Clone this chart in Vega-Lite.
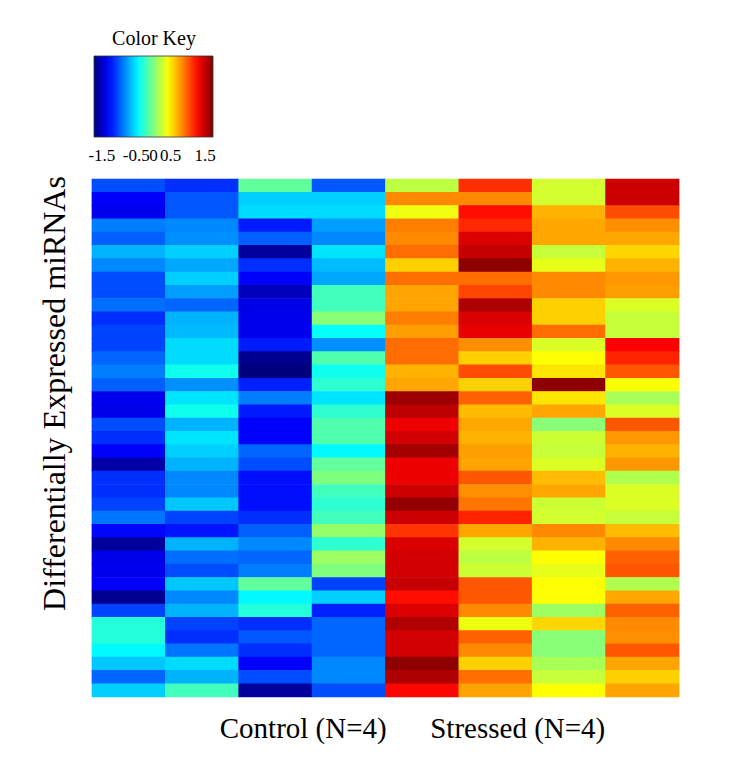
{
  "$schema": "https://vega.github.io/schema/vega-lite/v6.json",
  "width": 587,
  "height": 518,
  "autosize": {"type": "none"},
  "padding": {"left": 92, "top": 179, "right": 53, "bottom": 76},
  "background": "white",
  "config": {"view": {"stroke": null}},
  "data": {"values": [
{"r":1,"s":"C1","v":-1.04},{"r":1,"s":"C2","v":-1.14},{"r":1,"s":"C3","v":-0.10},{"r":1,"s":"C4","v":-1.00},{"r":1,"s":"S1","v":0.21},{"r":1,"s":"S2","v":1.14},{"r":1,"s":"S3","v":0.28},{"r":1,"s":"S4","v":1.47},
{"r":2,"s":"C1","v":-1.31},{"r":2,"s":"C2","v":-1.00},{"r":2,"s":"C3","v":-0.59},{"r":2,"s":"C4","v":-0.59},{"r":2,"s":"S1","v":0.83},{"r":2,"s":"S2","v":0.83},{"r":2,"s":"S3","v":0.28},{"r":2,"s":"S4","v":1.47},
{"r":3,"s":"C1","v":-1.35},{"r":3,"s":"C2","v":-1.00},{"r":3,"s":"C3","v":-0.55},{"r":3,"s":"C4","v":-0.55},{"r":3,"s":"S1","v":0.38},{"r":3,"s":"S2","v":1.25},{"r":3,"s":"S3","v":0.69},{"r":3,"s":"S4","v":1.04},
{"r":4,"s":"C1","v":-0.87},{"r":4,"s":"C2","v":-0.83},{"r":4,"s":"C3","v":-1.21},{"r":4,"s":"C4","v":-0.76},{"r":4,"s":"S1","v":0.87},{"r":4,"s":"S2","v":1.16},{"r":4,"s":"S3","v":0.73},{"r":4,"s":"S4","v":0.81},
{"r":5,"s":"C1","v":-0.97},{"r":5,"s":"C2","v":-0.81},{"r":5,"s":"C3","v":-0.97},{"r":5,"s":"C4","v":-0.83},{"r":5,"s":"S1","v":0.83},{"r":5,"s":"S2","v":1.42},{"r":5,"s":"S3","v":0.73},{"r":5,"s":"S4","v":0.73},
{"r":6,"s":"C1","v":-0.69},{"r":6,"s":"C2","v":-0.59},{"r":6,"s":"C3","v":-1.63},{"r":6,"s":"C4","v":-0.52},{"r":6,"s":"S1","v":0.93},{"r":6,"s":"S2","v":1.49},{"r":6,"s":"S3","v":0.24},{"r":6,"s":"S4","v":0.57},
{"r":7,"s":"C1","v":-0.83},{"r":7,"s":"C2","v":-0.73},{"r":7,"s":"C3","v":-1.14},{"r":7,"s":"C4","v":-0.66},{"r":7,"s":"S1","v":0.59},{"r":7,"s":"S2","v":1.68},{"r":7,"s":"S3","v":0.35},{"r":7,"s":"S4","v":0.69},
{"r":8,"s":"C1","v":-1.04},{"r":8,"s":"C2","v":-0.59},{"r":8,"s":"C3","v":-1.31},{"r":8,"s":"C4","v":-0.73},{"r":8,"s":"S1","v":0.92},{"r":8,"s":"S2","v":0.92},{"r":8,"s":"S3","v":0.83},{"r":8,"s":"S4","v":0.78},
{"r":9,"s":"C1","v":-1.04},{"r":9,"s":"C2","v":-0.76},{"r":9,"s":"C3","v":-1.52},{"r":9,"s":"C4","v":-0.21},{"r":9,"s":"S1","v":0.74},{"r":9,"s":"S2","v":1.06},{"r":9,"s":"S3","v":0.83},{"r":9,"s":"S4","v":0.76},
{"r":10,"s":"C1","v":-0.92},{"r":10,"s":"C2","v":-0.95},{"r":10,"s":"C3","v":-1.38},{"r":10,"s":"C4","v":-0.21},{"r":10,"s":"S1","v":0.74},{"r":10,"s":"S2","v":1.57},{"r":10,"s":"S3","v":0.59},{"r":10,"s":"S4","v":0.31},
{"r":11,"s":"C1","v":-1.14},{"r":11,"s":"C2","v":-0.69},{"r":11,"s":"C3","v":-1.35},{"r":11,"s":"C4","v":0.03},{"r":11,"s":"S1","v":0.87},{"r":11,"s":"S2","v":1.42},{"r":11,"s":"S3","v":0.59},{"r":11,"s":"S4","v":0.24},
{"r":12,"s":"C1","v":-1.07},{"r":12,"s":"C2","v":-0.67},{"r":12,"s":"C3","v":-1.35},{"r":12,"s":"C4","v":-0.42},{"r":12,"s":"S1","v":0.76},{"r":12,"s":"S2","v":1.38},{"r":12,"s":"S3","v":0.93},{"r":12,"s":"S4","v":0.24},
{"r":13,"s":"C1","v":-1.07},{"r":13,"s":"C2","v":-0.55},{"r":13,"s":"C3","v":-1.21},{"r":13,"s":"C4","v":-0.81},{"r":13,"s":"S1","v":0.93},{"r":13,"s":"S2","v":0.81},{"r":13,"s":"S3","v":0.31},{"r":13,"s":"S4","v":1.30},
{"r":14,"s":"C1","v":-0.95},{"r":14,"s":"C2","v":-0.55},{"r":14,"s":"C3","v":-1.68},{"r":14,"s":"C4","v":-0.16},{"r":14,"s":"S1","v":0.93},{"r":14,"s":"S2","v":0.59},{"r":14,"s":"S3","v":0.43},{"r":14,"s":"S4","v":1.18},
{"r":15,"s":"C1","v":-0.87},{"r":15,"s":"C2","v":-0.38},{"r":15,"s":"C3","v":-1.73},{"r":15,"s":"C4","v":-0.38},{"r":15,"s":"S1","v":0.69},{"r":15,"s":"S2","v":1.04},{"r":15,"s":"S3","v":0.52},{"r":15,"s":"S4","v":1.00},
{"r":16,"s":"C1","v":-0.97},{"r":16,"s":"C2","v":-0.81},{"r":16,"s":"C3","v":-1.19},{"r":16,"s":"C4","v":-0.28},{"r":16,"s":"S1","v":0.73},{"r":16,"s":"S2","v":0.59},{"r":16,"s":"S3","v":1.68},{"r":16,"s":"S4","v":0.43},
{"r":17,"s":"C1","v":-1.35},{"r":17,"s":"C2","v":-0.52},{"r":17,"s":"C3","v":-0.87},{"r":17,"s":"C4","v":-0.52},{"r":17,"s":"S1","v":1.63},{"r":17,"s":"S2","v":0.97},{"r":17,"s":"S3","v":0.52},{"r":17,"s":"S4","v":0.14},
{"r":18,"s":"C1","v":-1.37},{"r":18,"s":"C2","v":-0.38},{"r":18,"s":"C3","v":-1.21},{"r":18,"s":"C4","v":-0.28},{"r":18,"s":"S1","v":1.52},{"r":18,"s":"S2","v":0.66},{"r":18,"s":"S3","v":0.73},{"r":18,"s":"S4","v":0.31},
{"r":19,"s":"C1","v":-1.04},{"r":19,"s":"C2","v":-0.69},{"r":19,"s":"C3","v":-1.31},{"r":19,"s":"C4","v":-0.16},{"r":19,"s":"S1","v":1.35},{"r":19,"s":"S2","v":0.73},{"r":19,"s":"S3","v":0.03},{"r":19,"s":"S4","v":1.00},
{"r":20,"s":"C1","v":-1.14},{"r":20,"s":"C2","v":-0.52},{"r":20,"s":"C3","v":-1.31},{"r":20,"s":"C4","v":-0.16},{"r":20,"s":"S1","v":1.45},{"r":20,"s":"S2","v":0.69},{"r":20,"s":"S3","v":0.26},{"r":20,"s":"S4","v":0.78},
{"r":21,"s":"C1","v":-1.31},{"r":21,"s":"C2","v":-0.59},{"r":21,"s":"C3","v":-0.95},{"r":21,"s":"C4","v":-0.45},{"r":21,"s":"S1","v":1.61},{"r":21,"s":"S2","v":0.76},{"r":21,"s":"S3","v":0.24},{"r":21,"s":"S4","v":0.69},
{"r":22,"s":"C1","v":-1.59},{"r":22,"s":"C2","v":-0.69},{"r":22,"s":"C3","v":-1.04},{"r":22,"s":"C4","v":-0.10},{"r":22,"s":"S1","v":1.35},{"r":22,"s":"S2","v":0.74},{"r":22,"s":"S3","v":0.31},{"r":22,"s":"S4","v":0.78},
{"r":23,"s":"C1","v":-1.14},{"r":23,"s":"C2","v":-0.83},{"r":23,"s":"C3","v":-1.25},{"r":23,"s":"C4","v":0.00},{"r":23,"s":"S1","v":1.35},{"r":23,"s":"S2","v":1.00},{"r":23,"s":"S3","v":0.66},{"r":23,"s":"S4","v":0.17},
{"r":24,"s":"C1","v":-1.14},{"r":24,"s":"C2","v":-0.83},{"r":24,"s":"C3","v":-1.25},{"r":24,"s":"C4","v":-0.21},{"r":24,"s":"S1","v":1.47},{"r":24,"s":"S2","v":0.81},{"r":24,"s":"S3","v":0.73},{"r":24,"s":"S4","v":0.31},
{"r":25,"s":"C1","v":-1.07},{"r":25,"s":"C2","v":-0.62},{"r":25,"s":"C3","v":-1.25},{"r":25,"s":"C4","v":-0.28},{"r":25,"s":"S1","v":1.66},{"r":25,"s":"S2","v":0.90},{"r":25,"s":"S3","v":0.26},{"r":25,"s":"S4","v":0.31},
{"r":26,"s":"C1","v":-0.90},{"r":26,"s":"C2","v":-1.07},{"r":26,"s":"C3","v":-1.14},{"r":26,"s":"C4","v":-0.21},{"r":26,"s":"S1","v":1.47},{"r":26,"s":"S2","v":1.18},{"r":26,"s":"S3","v":0.28},{"r":26,"s":"S4","v":0.24},
{"r":27,"s":"C1","v":-1.28},{"r":27,"s":"C2","v":-1.23},{"r":27,"s":"C3","v":-0.97},{"r":27,"s":"C4","v":0.07},{"r":27,"s":"S1","v":1.12},{"r":27,"s":"S2","v":0.73},{"r":27,"s":"S3","v":0.83},{"r":27,"s":"S4","v":0.66},
{"r":28,"s":"C1","v":-1.63},{"r":28,"s":"C2","v":-0.69},{"r":28,"s":"C3","v":-0.83},{"r":28,"s":"C4","v":-0.28},{"r":28,"s":"S1","v":1.42},{"r":28,"s":"S2","v":0.28},{"r":28,"s":"S3","v":0.69},{"r":28,"s":"S4","v":0.83},
{"r":29,"s":"C1","v":-1.37},{"r":29,"s":"C2","v":-0.92},{"r":29,"s":"C3","v":-0.95},{"r":29,"s":"C4","v":0.10},{"r":29,"s":"S1","v":1.45},{"r":29,"s":"S2","v":0.21},{"r":29,"s":"S3","v":0.43},{"r":29,"s":"S4","v":0.97},
{"r":30,"s":"C1","v":-1.35},{"r":30,"s":"C2","v":-1.04},{"r":30,"s":"C3","v":-0.87},{"r":30,"s":"C4","v":0.00},{"r":30,"s":"S1","v":1.45},{"r":30,"s":"S2","v":0.26},{"r":30,"s":"S3","v":0.35},{"r":30,"s":"S4","v":1.00},
{"r":31,"s":"C1","v":-1.31},{"r":31,"s":"C2","v":-0.62},{"r":31,"s":"C3","v":-0.10},{"r":31,"s":"C4","v":-1.07},{"r":31,"s":"S1","v":1.49},{"r":31,"s":"S2","v":1.00},{"r":31,"s":"S3","v":0.43},{"r":31,"s":"S4","v":0.17},
{"r":32,"s":"C1","v":-1.68},{"r":32,"s":"C2","v":-0.83},{"r":32,"s":"C3","v":-0.45},{"r":32,"s":"C4","v":-0.59},{"r":32,"s":"S1","v":1.25},{"r":32,"s":"S2","v":1.00},{"r":32,"s":"S3","v":0.43},{"r":32,"s":"S4","v":0.73},
{"r":33,"s":"C1","v":-1.07},{"r":33,"s":"C2","v":-0.69},{"r":33,"s":"C3","v":-0.31},{"r":33,"s":"C4","v":-1.19},{"r":33,"s":"S1","v":1.42},{"r":33,"s":"S2","v":0.83},{"r":33,"s":"S3","v":0.10},{"r":33,"s":"S4","v":0.97},
{"r":34,"s":"C1","v":-0.31},{"r":34,"s":"C2","v":-1.07},{"r":34,"s":"C3","v":-1.14},{"r":34,"s":"C4","v":-0.95},{"r":34,"s":"S1","v":1.56},{"r":34,"s":"S2","v":0.38},{"r":34,"s":"S3","v":0.57},{"r":34,"s":"S4","v":0.83},
{"r":35,"s":"C1","v":-0.31},{"r":35,"s":"C2","v":-1.14},{"r":35,"s":"C3","v":-1.00},{"r":35,"s":"C4","v":-0.95},{"r":35,"s":"S1","v":1.45},{"r":35,"s":"S2","v":0.97},{"r":35,"s":"S3","v":0.03},{"r":35,"s":"S4","v":0.81},
{"r":36,"s":"C1","v":-0.45},{"r":36,"s":"C2","v":-0.90},{"r":36,"s":"C3","v":-1.14},{"r":36,"s":"C4","v":-0.95},{"r":36,"s":"S1","v":1.45},{"r":36,"s":"S2","v":0.83},{"r":36,"s":"S3","v":0.03},{"r":36,"s":"S4","v":1.00},
{"r":37,"s":"C1","v":-0.62},{"r":37,"s":"C2","v":-0.55},{"r":37,"s":"C3","v":-1.31},{"r":37,"s":"C4","v":-0.83},{"r":37,"s":"S1","v":1.68},{"r":37,"s":"S2","v":0.59},{"r":37,"s":"S3","v":0.14},{"r":37,"s":"S4","v":0.74},
{"r":38,"s":"C1","v":-0.95},{"r":38,"s":"C2","v":-0.69},{"r":38,"s":"C3","v":-1.04},{"r":38,"s":"C4","v":-0.83},{"r":38,"s":"S1","v":1.57},{"r":38,"s":"S2","v":0.92},{"r":38,"s":"S3","v":0.24},{"r":38,"s":"S4","v":0.59},
{"r":39,"s":"C1","v":-0.59},{"r":39,"s":"C2","v":-0.21},{"r":39,"s":"C3","v":-1.63},{"r":39,"s":"C4","v":-1.04},{"r":39,"s":"S1","v":1.28},{"r":39,"s":"S2","v":0.74},{"r":39,"s":"S3","v":0.43},{"r":39,"s":"S4","v":0.74}
  ]},
  "mark": {"type": "rect", "width": {"band": 1.01}, "height": {"band": 1.05}},
  "encoding": {
    "x": {
      "field": "s", "type": "ordinal",
      "scale": {"paddingInner": 0, "paddingOuter": 0},
      "axis": {
        "labels": false, "ticks": false, "domain": false,
        "title": "Control (N=4)\u00a0\u00a0\u00a0\u00a0\u00a0\u00a0Stressed (N=4)",
        "titleFont": "Liberation Serif", "titleFontSize": 29, "titleFontWeight": "normal", "titleColor": "black",
        "titleX": 320, "titleY": 40, "titleAlign": "center", "titleBaseline": "alphabetic", "titleAnchor": null
      }
    },
    "y": {
      "field": "r", "type": "ordinal",
      "scale": {"paddingInner": 0, "paddingOuter": 0},
      "axis": {
        "labels": false, "ticks": false, "domain": false,
        "title": "Differentially Expressed miRNAs",
        "titleFont": "Liberation Serif", "titleFontSize": 32, "titleFontWeight": "normal", "titleColor": "black",
        "titleX": -28, "titleY": 214, "titleAngle": -90, "titleAlign": "center", "titleBaseline": "alphabetic", "titleAnchor": null
      }
    },
    "fill": {
      "field": "v", "type": "quantitative",
      "scale": {
        "domain": [-1.73, -1.2975, -0.865, -0.4325, 0, 0.4325, 0.865, 1.2975, 1.73],
        "range": ["#00007F", "#0000FF", "#007FFF", "#00FFFF", "#7FFF7F", "#FFFF00", "#FF7F00", "#FF0000", "#7F0000"],
        "interpolate": "rgb", "clamp": true
      },
      "legend": {
        "type": "gradient",
        "title": "Color Key",
        "orient": "none", "direction": "horizontal",
        "legendX": 2, "legendY": -150,
        "padding": 0,
        "titleFont": "Liberation Serif", "titleFontSize": 20, "titleFontWeight": "normal", "titleColor": "black",
        "titleAnchor": "middle", "titlePadding": 7,
        "gradientLength": 119, "gradientThickness": 81,
        "gradientStrokeColor": "#333", "gradientStrokeWidth": 0.8,
        "values": [-1.5, -0.5, 0, 0.5, 1.5],
        "labelExpr": "datum.value < 0 ? '-' + format(-datum.value, '.1f') : datum.value == 0 ? '0' : format(datum.value, '.1f')",
        "labelFont": "Liberation Serif", "labelFontSize": 17, "labelColor": "black",
        "labelOffset": 11, "labelOverlap": false
      }
    }
  }
}
